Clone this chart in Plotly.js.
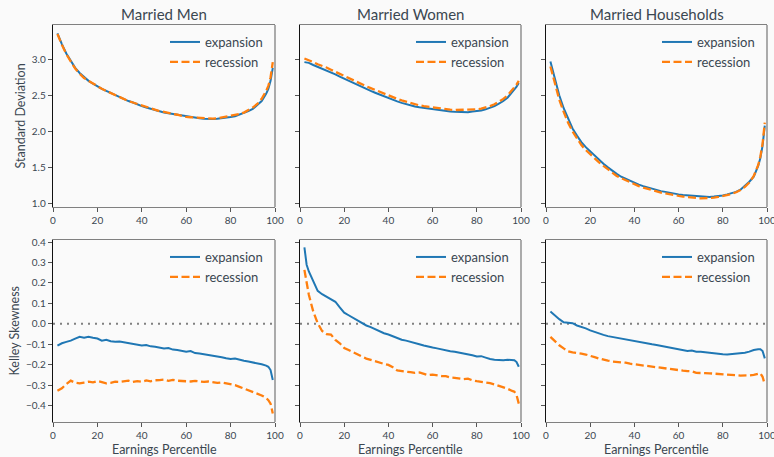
<!DOCTYPE html>
<html><head><meta charset="utf-8">
<script src="https://cdn.plot.ly/plotly-3.0.1.min.js"></script>
<style>html,body{margin:0;padding:0;background:#fafafa;} #chart{width:774px;height:457px;}</style>
</head><body><div id="chart"></div>
<script>
const percentile = [2,3,4,6,8,10,12,14,16,18,20,22,24,26,28,30,32,34,36,38,40,42,44,46,48,50,52,54,56,58,60,62,64,66,68,70,72,74,76,78,80,82,84,86,88,90,92,94,96,97,98,99];
const panelTitles = ['Married Men','Married Women','Married Households'];
const seriesNames = ['expansion','recession'];
const rowTitles = ['Standard Deviation','Kelley Skewness'];
const xAxisTitle = 'Earnings Percentile';
const xTicks = [0,20,40,60,80,100];
const sdTicks = [1.0,1.5,2.0,2.5,3.0];
const skewTicks = [-0.4,-0.3,-0.2,-0.1,0.0,0.1,0.2,0.3,0.4];

const menSdExp = [3.36,3.28,3.21,3.08,2.97, 2.88,2.81,2.75,2.70,2.66, 2.62,2.59,2.56,2.53,2.50, 2.47,2.45,2.42,2.40,2.37, 2.35,2.33,2.31,2.29,2.28, 2.26,2.25,2.24,2.22,2.21, 2.20,2.19,2.185,2.18,2.175, 2.17,2.17,2.175,2.18,2.19, 2.20,2.21,2.23,2.25,2.28, 2.31,2.36,2.42,2.52,2.59, 2.70,2.88];
const menSdRec = [3.35,3.27,3.20,3.07,2.96, 2.87,2.80,2.74,2.70,2.66, 2.62,2.59,2.56,2.53,2.50, 2.47,2.45,2.42,2.40,2.38, 2.35,2.33,2.31,2.30,2.28, 2.27,2.25,2.24,2.23,2.21, 2.20,2.195,2.19,2.18,2.175, 2.17,2.175,2.18,2.19,2.20, 2.21,2.225,2.24,2.26,2.29, 2.33,2.38,2.45,2.56,2.63, 2.75,2.96];
const womenSdExp = [2.96,2.96,2.95,2.92,2.895, 2.875,2.85,2.82,2.79,2.76, 2.73,2.70,2.67,2.64,2.61, 2.585,2.56,2.535,2.51,2.48, 2.455,2.435,2.415,2.395,2.375, 2.36,2.345,2.335,2.325,2.315, 2.305,2.295,2.285,2.28,2.275, 2.27,2.265,2.265,2.265,2.275, 2.28,2.29,2.305,2.325,2.35, 2.385,2.42,2.47,2.54,2.58, 2.62,2.67];
const womenSdRec = [3.01,3.00,2.99,2.96,2.93, 2.91,2.885,2.855,2.825,2.80, 2.77,2.74,2.71,2.68,2.65, 2.625,2.60,2.575,2.55,2.52, 2.49,2.47,2.45,2.43,2.41, 2.39,2.375,2.36,2.35,2.34, 2.33,2.32,2.31,2.305,2.30, 2.295,2.295,2.295,2.295,2.30, 2.305,2.315,2.33,2.35,2.375, 2.41,2.45,2.50,2.57,2.61, 2.65,2.70];
const hhSdExp = [2.97,2.85,2.72,2.50,2.32, 2.17,2.04,1.94,1.85,1.78, 1.72,1.66,1.60,1.55,1.50, 1.45,1.41,1.37,1.34,1.31, 1.28,1.26,1.24,1.22,1.20, 1.185,1.17,1.16,1.145,1.135, 1.125,1.115,1.11,1.10,1.095, 1.09,1.09,1.09,1.095,1.10, 1.11,1.125,1.14,1.16,1.19, 1.24,1.30,1.37,1.52,1.63, 1.80,2.08];
const hhSdRec = [2.90,2.78,2.66,2.44,2.27, 2.12,2.00,1.90,1.81,1.74, 1.68,1.62,1.57,1.52,1.47, 1.42,1.38,1.35,1.32,1.29, 1.26,1.24,1.22,1.20,1.18, 1.165,1.15,1.14,1.125,1.115, 1.105,1.095,1.085,1.075,1.075, 1.07,1.07,1.075,1.08,1.09, 1.10,1.115,1.13,1.155,1.185, 1.23,1.29,1.38,1.53,1.65, 1.83,2.12];

const menSkExp = [-0.107,-0.100,-0.095,-0.088,-0.082, -0.072,-0.063,-0.068,-0.063,-0.068, -0.072,-0.082,-0.078,-0.085,-0.088, -0.086,-0.090,-0.092,-0.095,-0.100, -0.106,-0.104,-0.110,-0.112,-0.115, -0.120,-0.118,-0.126,-0.128,-0.131, -0.136,-0.133,-0.143,-0.145,-0.148, -0.152,-0.156,-0.160,-0.163,-0.168, -0.172,-0.170,-0.176,-0.180,-0.184, -0.188,-0.193,-0.198,-0.204,-0.210, -0.226,-0.275];
const menSkRec = [-0.327,-0.320,-0.315,-0.295,-0.278, -0.288,-0.291,-0.287,-0.283,-0.286, -0.280,-0.285,-0.291,-0.289,-0.283, -0.284,-0.281,-0.278,-0.284,-0.280, -0.283,-0.277,-0.281,-0.276,-0.275, -0.273,-0.279,-0.274,-0.278,-0.280, -0.279,-0.282,-0.279,-0.282,-0.284, -0.282,-0.286,-0.289,-0.286,-0.290, -0.294,-0.300,-0.308,-0.316,-0.323, -0.332,-0.340,-0.350,-0.362,-0.373, -0.390,-0.438];
const womenSkExp = [0.374,0.289,0.256,0.207,0.161, 0.145,0.134,0.120,0.108,0.080, 0.055,0.042,0.030,0.016,0.003, -0.008,-0.016,-0.026,-0.036,-0.046, -0.052,-0.060,-0.068,-0.078,-0.082, -0.087,-0.093,-0.100,-0.106,-0.112, -0.116,-0.120,-0.125,-0.128,-0.134, -0.136,-0.140,-0.146,-0.150,-0.154, -0.160,-0.158,-0.165,-0.172,-0.175, -0.177,-0.178,-0.176,-0.175,-0.178, -0.187,-0.210];
const womenSkRec = [0.264,0.199,0.142,0.060,0.003, -0.035,-0.050,-0.052,-0.079,-0.095, -0.118,-0.128,-0.138,-0.146,-0.160, -0.170,-0.177,-0.185,-0.190,-0.196, -0.201,-0.212,-0.228,-0.232,-0.234, -0.236,-0.240,-0.238,-0.246,-0.251, -0.248,-0.252,-0.255,-0.256,-0.262, -0.264,-0.266,-0.270,-0.268,-0.276, -0.280,-0.283,-0.286,-0.290,-0.296, -0.303,-0.310,-0.318,-0.328,-0.332, -0.349,-0.390];
const hhSkExp = [0.060,0.050,0.040,0.023,0.008, 0.005,0.003,-0.008,-0.014,-0.022, -0.032,-0.040,-0.048,-0.054,-0.060, -0.064,-0.068,-0.073,-0.077,-0.082, -0.087,-0.090,-0.095,-0.098,-0.100, -0.103,-0.107,-0.111,-0.115,-0.120, -0.124,-0.127,-0.133,-0.130,-0.136, -0.137,-0.140,-0.143,-0.146,-0.148, -0.149,-0.150,-0.148,-0.146,-0.144, -0.141,-0.136,-0.128,-0.124,-0.124, -0.133,-0.169];
const hhSkRec = [-0.064,-0.075,-0.087,-0.105,-0.120, -0.134,-0.140,-0.142,-0.146,-0.150, -0.158,-0.163,-0.170,-0.176,-0.180, -0.184,-0.185,-0.187,-0.190,-0.195, -0.198,-0.200,-0.204,-0.206,-0.211, -0.214,-0.216,-0.220,-0.222,-0.224, -0.226,-0.229,-0.231,-0.232,-0.240, -0.242,-0.241,-0.242,-0.243,-0.244, -0.245,-0.247,-0.249,-0.251,-0.253, -0.254,-0.252,-0.250,-0.244,-0.242, -0.259,-0.297];

const rows = [
  [[menSdExp,menSdRec],[womenSdExp,womenSdRec],[hhSdExp,hhSdRec]],
  [[menSkExp,menSkRec],[womenSkExp,womenSkRec],[hhSkExp,hhSkRec]]
];

const W = 774, H = 457;
const FONT = 'Lato, "Open Sans", sans-serif';
const TXT = '#3b4751';
const BG = '#fafafa';
const colPx = [[53,275],[300,521],[546,767]];
const rowPx = [[25,207],[240,422]];
const yRanges = [[0.95,3.475],[-0.48,0.41]];
const yTicks = [sdTicks, skewTicks];
const colors = ['#1f77b4','#ff7f0e'];

const data = [];
const layout = {
  width: W, height: H, margin: {l:0,r:0,t:0,b:0},
  paper_bgcolor: BG, plot_bgcolor: BG,
  font: {family: FONT, color: TXT, size: 10},
  showlegend: true, shapes: [], annotations: []
};

for (let r = 0; r < 2; r++) {
  for (let c = 0; c < 3; c++) {
    const idx = r*3 + c + 1;
    const s = idx === 1 ? '' : String(idx);
    layout['xaxis'+s] = {
      domain: [colPx[c][0]/W, colPx[c][1]/W], range: [0,100], tickvals: xTicks,
      ticks: 'outside', ticklen: 4, tickwidth: 1, tickcolor: '#555', ticklabeloverflow: 'allow',
      showline: true, linecolor: '#808080', linewidth: 1.3, mirror: true,
      showgrid: false, zeroline: false, anchor: 'y'+s, tickfont: {size: 10, color: TXT}
    };
    layout['yaxis'+s] = {
      domain: [1-rowPx[r][1]/H, 1-rowPx[r][0]/H], range: yRanges[r], tickvals: yTicks[r],
      tickformat: '.1f', ticks: 'outside', ticklen: 4, tickwidth: 1, tickcolor: '#555',
      showticklabels: c === 0, showline: true, linecolor: '#111', linewidth: 1.3,
      showgrid: false, zeroline: false, anchor: 'x'+s, tickfont: {size: 10, color: TXT}
    };
    layout.shapes.push({type:'line', xref:'x'+s+' domain', yref:'y'+s+' domain', x0:1, x1:1, y0:0, y1:1,
      line:{color:'#808080', width:1.3}});
    if (r === 1) {
      layout.shapes.push({type:'line', xref:'x'+s+' domain', yref:'y'+s, x0:0, x1:1, y0:0, y1:0,
        line:{color:'#808080', width:2, dash:'2px,5px'}, layer:'below'});
    }
    const ser = rows[r][c];
    for (let k = 0; k < 2; k++) {
      data.push({
        x: percentile, y: ser[k], xaxis: 'x'+s, yaxis: 'y'+s, mode: 'lines',
        name: seriesNames[k], legend: 'legend'+s, hoverinfo: 'skip',
        line: {color: colors[k], width: k === 0 ? 2 : 2.3, dash: k === 0 ? 'solid' : '8px,3.5px'}
      });
    }
    layout['legend'+s] = {
      x: (colPx[c][1]-110)/W, xanchor: 'left', y: 1-(rowPx[r][0]+2)/H, yanchor: 'top',
      bgcolor: 'rgba(0,0,0,0)', font: {size: 13, color: TXT}, tracegroupgap: 0
    };
    if (r === 0) {
      layout.annotations.push({text: panelTitles[c], xref:'paper', yref:'paper',
        x: (colPx[c][0]+colPx[c][1])/2/W, y: 1-14.5/H, xanchor:'center', yanchor:'middle',
        showarrow:false, font:{size:15, color:TXT}});
    } else {
      layout.annotations.push({text: xAxisTitle, xref:'paper', yref:'paper',
        x: (colPx[c][0]+colPx[c][1])/2/W, y: 1-449/H, xanchor:'center', yanchor:'middle',
        showarrow:false, font:{size:12.5, color:TXT}});
    }
  }
  layout.annotations.push({text: rowTitles[r], xref:'paper', yref:'paper',
    x: (r === 0 ? 20.5 : 13.5)/W, y: 1-((rowPx[r][0]+rowPx[r][1])/2)/H, xanchor:'center', yanchor:'middle',
    textangle: -90, showarrow:false, font:{size:12.5, color:TXT}});
}

Plotly.newPlot('chart', data, layout, {displayModeBar: false, staticPlot: true});
</script>
</body></html>
